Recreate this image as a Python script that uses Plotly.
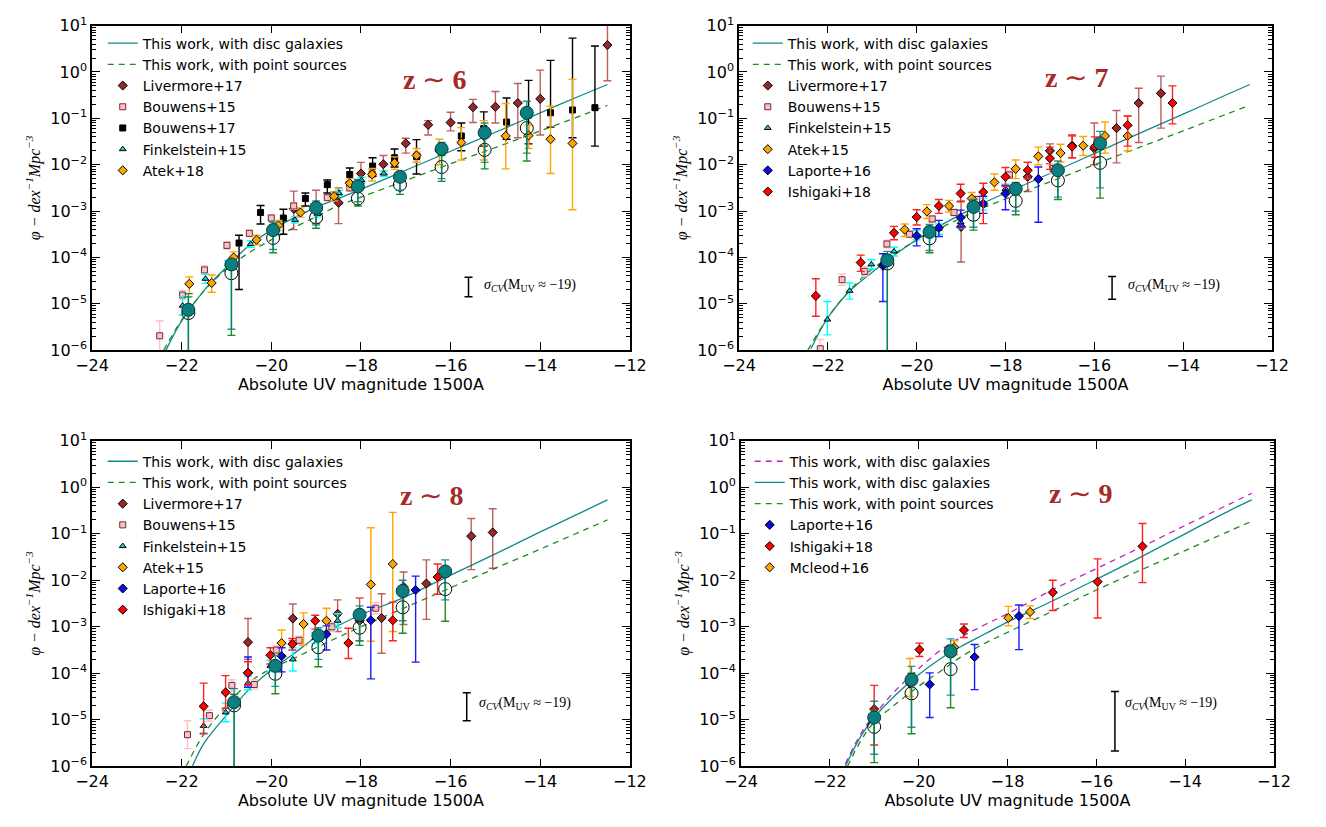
import plotly.graph_objects as go

W, H = 1326, 827

# ---------------- axis ticks ----------------
X_TICKS = [-24, -22, -20, -18, -16, -14, -12]
Y_EXP = [-6, -5, -4, -3, -2, -1, 0, 1]
Y_TICK_TEXT = ["10<sup>−6</sup>", "10<sup>−5</sup>", "10<sup>−4</sup>", "10<sup>−3</sup>",
               "10<sup>−2</sup>", "10<sup>−1</sup>", "10<sup>0</sup>", "10<sup>1</sup>"]

# All phi values below are log10(phi [dex^-1 Mpc^-3]).
# ================= z ~ 6 =================
Z6_LINE_M = [-22.35, -22.0, -21.5, -21.0, -20.5, -20.0, -19.0, -18.5, -18.0, -17.0, -16.0, -15.0, -14.0, -13.0, -12.5]
Z6_DISC_LINE = [-6.0, -5.37, -4.71, -4.21, -3.75, -3.41, -2.92, -2.73, -2.53, -2.12, -1.71, -1.30, -0.88, -0.47, -0.27]
Z6_PTS_LINE_M = [-22.4, -22.0, -21.5, -21.0, -20.5, -20.0, -19.5, -19.0, -18.5, -18.0, -17.0, -16.0, -15.0, -14.0, -13.0, -12.5]
Z6_PTS_LINE = [-6.0, -5.35, -4.72, -4.25, -3.9, -3.62, -3.36, -3.12, -2.88, -2.7, -2.34, -1.98, -1.63, -1.27, -0.91, -0.72]

Z6_W_M = [-21.85, -20.89, -19.96, -19.0, -18.07, -17.13, -16.2, -15.24, -14.3]
Z6_W_DISC = [-5.13, -4.15, -3.41, -2.93, -2.47, -2.26, -1.66, -1.31, -0.88]
Z6_W_DISC_HI = [-4.78, -4.06, -3.24, -2.78, -2.32, -2.15, -1.52, -1.10, -0.63]
Z6_W_DISC_LO = [-7.0, -5.55, -3.83, -3.30, -2.80, -2.55, -2.30, -1.95, -1.75]
Z6_W_PT = [-5.2, -4.34, -3.58, -3.14, -2.73, -2.43, -2.05, -1.68, -1.21]
Z6_W_PT_HI = [-4.85, -4.10, -3.30, -2.90, -2.50, -2.25, -1.80, -1.40, -0.95]
Z6_W_PT_LO = [-7.0, -5.68, -3.90, -3.37, -2.89, -2.64, -2.36, -2.09, -1.92]

Z6_LIV_M = [-19.5, -19.0, -18.5, -18.0, -17.5, -17.0, -16.5, -16.0, -15.5, -15.0, -14.5, -14.0, -12.5]
Z6_LIV = [-2.95, -2.87, -2.82, -2.19, -1.99, -1.54, -1.14, -1.09, -0.76, -0.75, -0.67, -0.58, 0.58]
Z6_LIV_HI = [-2.57, -2.55, -2.50, -1.95, -1.80, -1.43, -1.05, -0.87, -0.59, -0.42, -0.25, 0.04, 1.5]
Z6_LIV_LO = [-3.40, -3.26, -3.27, -2.40, -2.20, -1.75, -1.36, -1.27, -1.09, -1.10, -1.42, -1.36, -0.19]

Z6_B15_M = [-22.49, -21.98, -21.49, -20.99, -20.49, -20.0, -19.5, -18.75, -18.25, -17.75, -17.25, -16.75]
Z6_B15 = [-5.69, -4.81, -4.27, -3.74, -3.48, -3.15, -2.89, -2.71, -2.50, -2.20, -1.95, -1.82]
Z6_B15_ERR = [0.32, 0.10, 0.09, 0.08, 0.07, 0.07, 0.07, 0.06, 0.07, 0.08, 0.09, 0.10]

Z6_B17_M = [-20.72, -20.24, -19.73, -19.24, -18.75, -18.25, -17.74, -17.25, -16.76, -15.76, -15.26, -14.75, -14.26, -13.77, -13.28, -12.78]
Z6_B17 = [-3.69, -3.03, -3.15, -2.73, -2.43, -2.21, -2.03, -1.85, -1.82, -1.38, -1.22, -1.08, -0.93, -0.88, -0.82, -0.77]
Z6_B17_HI = [-3.52, -2.88, -2.96, -2.61, -2.33, -2.07, -1.85, -1.66, -1.46, -1.10, -0.86, -0.56, -0.18, 0.25, 0.73, 0.56]
Z6_B17_LO = [-4.69, -3.28, -3.50, -2.89, -2.61, -2.37, -2.25, -2.05, -2.20, -1.70, -1.60, -1.45, -1.55, -1.19, -1.42, -1.60]

Z6_F15_M = [-21.98, -21.47, -20.96, -20.46, -19.96, -19.47, -18.97, -18.49, -17.99, -17.49]
Z6_F15 = [-5.04, -4.46, -4.15, -3.71, -3.38, -3.19, -3.06, -2.61, -2.33, -2.19]
Z6_F15_ERR = [0.20, 0.10, 0.08, 0.07, 0.07, 0.07, 0.07, 0.06, 0.06, 0.06]

Z6_A18_M = [-21.83, -21.33, -20.84, -20.33, -19.84, -19.35, -18.6, -18.25, -17.75, -17.25, -16.76, -16.25, -15.76, -15.26, -14.77, -14.26, -13.77, -13.28]
Z6_A18 = [-4.57, -4.55, -4.00, -3.62, -3.31, -3.03, -2.68, -2.40, -2.21, -1.96, -1.80, -1.70, -1.52, -1.38, -1.38, -1.37, -1.45, -1.54]
Z6_A18_HI = [-4.42, -4.38, -3.88, -3.52, -3.20, -2.93, -2.58, -2.30, -2.08, -1.83, -1.65, -1.45, -1.20, -1.05, -0.68, -1.15, -0.74, -0.16]
Z6_A18_LO = [-4.78, -4.75, -4.15, -3.72, -3.42, -3.13, -2.78, -2.50, -2.35, -2.10, -1.95, -2.00, -1.90, -1.90, -2.09, -1.65, -2.19, -2.97]

# ================= z ~ 7 =================
Z7_LINE_M = [-22.38, -22.0, -21.5, -21.0, -20.66, -20.0, -19.5, -19.0, -18.5, -18.0, -17.0, -16.0, -15.0, -14.0, -13.0, -12.5]
Z7_DISC_LINE = [-5.97, -5.30, -4.72, -4.32, -4.06, -3.62, -3.33, -3.07, -2.83, -2.61, -2.19, -1.76, -1.33, -0.91, -0.48, -0.27]
Z7_PTS_LINE_M = [-22.45, -22.0, -21.5, -21.0, -20.5, -20.0, -19.5, -19.0, -18.5, -18.0, -17.0, -16.0, -15.0, -14.0, -13.0, -12.5]
Z7_PTS_LINE = [-6.0, -5.30, -4.70, -4.25, -3.92, -3.63, -3.38, -3.15, -2.93, -2.74, -2.37, -2.00, -1.63, -1.27, -0.90, -0.72]

Z7_W_M = [-20.66, -19.71, -18.72, -17.77, -16.82, -15.87]
Z7_W_DISC = [-4.06, -3.45, -2.91, -2.52, -2.12, -1.54]
Z7_W_DISC_HI = [-3.87, -3.29, -2.75, -2.38, -1.92, -1.28]
Z7_W_DISC_LO = [-7.0, -3.85, -3.35, -3.00, -2.70, -2.50]
Z7_W_PT = [-4.13, -3.59, -3.08, -2.78, -2.34, -1.96]
Z7_W_PT_HI = [-3.95, -3.35, -2.85, -2.50, -2.05, -1.50]
Z7_W_PT_LO = [-7.0, -3.90, -3.41, -3.08, -2.75, -2.72]

Z7_LIV_M = [-19.0, -17.5, -17.0, -16.5, -16.0, -15.5, -15.0, -14.5]
Z7_LIV = [-3.34, -2.26, -1.70, -1.59, -1.65, -1.21, -0.67, -0.46]
Z7_LIV_HI = [-2.78, -1.95, -1.55, -1.38, -1.10, -0.83, -0.35, -0.09]
Z7_LIV_LO = [-4.10, -2.58, -1.98, -1.85, -2.00, -1.96, -1.52, -1.21]

Z7_B15_M = [-22.17, -21.68, -21.17, -20.67, -20.16, -19.65, -19.16, -18.65, -17.91, -16.93]
Z7_B15 = [-5.97, -4.48, -4.30, -3.71, -3.50, -3.17, -3.03, -2.75, -2.22, -2.08]
Z7_B15_ERR = [0.20, 0.12, 0.10, 0.08, 0.07, 0.07, 0.07, 0.07, 0.08, 0.10]

Z7_F15_M = [-22.01, -21.51, -21.02, -20.51, -20.0, -19.5, -19.01, -18.5, -18.0]
Z7_F15 = [-5.34, -4.72, -4.15, -3.87, -3.52, -3.38, -3.24, -2.85, -2.52]
Z7_F15_HI = [-4.95, -4.55, -4.05, -3.78, -3.42, -3.28, -3.12, -2.72, -2.42]
Z7_F15_LO = [-5.67, -4.90, -4.25, -3.97, -3.62, -3.50, -3.36, -2.98, -2.62]

Z7_A15_M = [-20.27, -19.77, -19.27, -18.76, -18.25, -17.77, -17.26, -16.76, -16.25, -15.76, -15.25]
Z7_A15 = [-3.40, -3.01, -2.89, -2.73, -2.38, -2.09, -1.82, -1.75, -1.59, -1.38, -1.38]
Z7_A15_HI = [-3.28, -2.86, -2.77, -2.60, -2.20, -1.90, -1.62, -1.56, -1.39, -1.08, -0.95]
Z7_A15_LO = [-3.55, -3.16, -3.02, -2.88, -2.55, -2.30, -2.00, -1.94, -1.80, -1.75, -1.70]

Z7_L16_M = [-20.76, -20.0, -19.5, -19.01, -18.5, -18.0, -17.26]
Z7_L16 = [-4.18, -3.53, -3.36, -3.14, -2.84, -2.62, -2.31]
Z7_L16_HI = [-3.92, -3.38, -3.20, -2.98, -2.68, -2.45, -2.05]
Z7_L16_LO = [-4.95, -3.75, -3.55, -3.35, -3.05, -2.97, -3.24]

Z7_I18_M = [-22.27, -21.26, -20.51, -20.0, -19.5, -19.01, -18.5, -18.0, -17.5, -17.0, -16.5, -15.99, -15.25, -14.24]
Z7_I18 = [-4.83, -4.11, -3.47, -3.13, -2.89, -2.62, -2.59, -2.26, -2.12, -1.86, -1.61, -1.61, -1.15, -0.67]
Z7_I18_HI = [-4.46, -3.95, -3.33, -2.97, -2.75, -2.42, -2.40, -2.06, -1.95, -1.62, -1.36, -1.40, -0.95, -0.30]
Z7_I18_LO = [-5.27, -4.30, -3.62, -3.30, -3.05, -2.80, -3.27, -2.47, -2.30, -2.10, -1.85, -1.84, -1.60, -1.12]

# ================= z ~ 8 =================
Z8_LINE_M = [-21.76, -21.5, -21.0, -20.5, -20.0, -19.5, -19.0, -18.5, -18.0, -17.0, -16.0, -15.0, -14.0, -13.0, -12.5]
Z8_DISC_LINE = [-6.0, -5.5, -4.9, -4.35, -3.93, -3.58, -3.22, -2.97, -2.74, -2.35, -1.89, -1.43, -0.96, -0.50, -0.27]
Z8_PTS_LINE_M = [-21.9, -21.5, -21.0, -20.5, -20.0, -19.5, -19.0, -18.5, -18.0, -17.0, -16.0, -15.0, -14.0, -13.0, -12.5]
Z8_PTS_LINE = [-6.0, -5.3, -4.7, -4.2, -3.9, -3.68, -3.45, -3.22, -3.0, -2.58, -2.16, -1.74, -1.33, -0.91, -0.70]

Z8_W_M = [-20.83, -19.91, -18.95, -18.03, -17.07, -16.12]
Z8_W_DISC = [-4.62, -3.84, -3.19, -2.74, -2.23, -1.81]
Z8_W_DISC_HI = [-4.33, -3.62, -3.02, -2.55, -2.00, -1.56]
Z8_W_DISC_LO = [-7.0, -4.28, -3.70, -3.30, -2.87, -2.42]
Z8_W_PT = [-4.69, -4.01, -3.44, -3.02, -2.58, -2.19]
Z8_W_PT_HI = [-4.45, -3.75, -3.20, -2.80, -2.30, -1.90]
Z8_W_PT_LO = [-7.0, -4.44, -3.86, -3.40, -3.14, -2.88]

Z8_LIV_M = [-20.52, -19.52, -18.52, -18.03, -17.54, -17.05, -16.54, -15.54, -15.06]
Z8_LIV = [-3.33, -2.82, -2.72, -2.87, -2.81, -2.14, -2.07, -1.05, -0.97]
Z8_LIV_HI = [-2.82, -2.51, -2.42, -2.38, -2.29, -1.82, -1.56, -0.67, -0.46]
Z8_LIV_LO = [-3.70, -3.30, -3.10, -3.30, -3.57, -2.95, -2.84, -1.77, -1.74]

Z8_B15_M = [-21.87, -21.38, -20.88, -20.38, -19.89, -19.38, -18.65, -17.67]
Z8_B15 = [-5.32, -4.91, -4.26, -4.24, -3.50, -3.29, -3.00, -2.60]
Z8_B15_ERR = [0.30, 0.12, 0.12, 0.10, 0.09, 0.09, 0.10, 0.12]

Z8_F15_M = [-21.51, -21.02, -20.52, -20.02, -19.52, -19.02, -18.52]
Z8_F15 = [-5.13, -4.84, -4.21, -3.84, -3.70, -3.24, -2.87]
Z8_F15_ERR = [0.15, 0.20, 0.15, 0.12, 0.25, 0.12, 0.15]

Z8_A15_M = [-19.77, -19.28, -18.77, -17.78, -17.29]
Z8_A15 = [-3.35, -2.94, -2.87, -2.09, -1.65]
Z8_A15_HI = [-3.07, -2.70, -2.60, -0.87, -0.54]
Z8_A15_LO = [-3.60, -3.40, -3.10, -3.31, -3.10]

Z8_L16_M = [-20.52, -19.77, -18.77, -17.78, -16.78]
Z8_L16 = [-3.99, -3.63, -3.16, -2.86, -2.21]
Z8_L16_HI = [-3.65, -3.45, -2.98, -2.58, -1.91]
Z8_L16_LO = [-4.30, -3.97, -3.50, -4.12, -3.76]

Z8_I18_M = [-21.51, -21.02, -20.52, -20.02, -19.53, -19.02, -18.28, -17.29, -16.29]
Z8_I18 = [-4.71, -4.41, -3.99, -3.61, -3.37, -2.87, -3.35, -2.86, -1.93]
Z8_I18_HI = [-4.21, -4.05, -3.75, -3.45, -3.25, -2.75, -3.03, -2.47, -1.65]
Z8_I18_LO = [-5.30, -4.75, -4.25, -3.80, -3.50, -3.05, -3.68, -3.30, -2.30]

# ================= z ~ 9 =================
Z9_LINE_M = [-21.65, -21.3, -21.0, -20.5, -20.0, -19.5, -19.0, -18.5, -18.0, -17.0, -16.0, -15.0, -14.0, -13.0, -12.5]
Z9_DISC2_LINE = [-5.95, -5.30, -4.90, -4.35, -3.90, -3.50, -3.20, -2.95, -2.72, -2.21, -1.75, -1.29, -0.82, -0.36, -0.13]
Z9_DISC_LINE = [-6.0, -5.35, -4.95, -4.45, -4.03, -3.68, -3.40, -3.15, -2.90, -2.45, -1.98, -1.50, -1.00, -0.50, -0.27]
Z9_PTS_LINE_M = [-21.6, -21.3, -21.0, -20.5, -20.0, -19.5, -19.0, -18.5, -18.0, -17.0, -16.0, -15.0, -14.0, -13.0, -12.5]
Z9_PTS_LINE = [-6.0, -5.45, -5.05, -4.65, -4.28, -3.95, -3.62, -3.35, -3.12, -2.67, -2.21, -1.78, -1.36, -0.94, -0.73]

Z9_W_M = [-21.0, -20.16, -19.28]
Z9_W_DISC = [-4.95, -4.14, -3.53]
Z9_W_DISC_HI = [-4.60, -3.85, -3.26]
Z9_W_DISC_LO = [-5.74, -5.16, -4.47]
Z9_W_PT = [-5.15, -4.43, -3.91]
Z9_W_PT_HI = [-4.80, -4.00, -3.40]
Z9_W_PT_LO = [-5.92, -5.30, -4.74]

Z9_L16_M = [-19.75, -18.74, -17.74]
Z9_L16 = [-4.24, -3.65, -2.77]
Z9_L16_HI = [-3.99, -3.38, -2.53]
Z9_L16_LO = [-4.95, -4.35, -3.49]

Z9_I18_M = [-21.0, -19.98, -18.98, -16.98, -15.97, -14.96]
Z9_I18 = [-4.77, -3.49, -3.07, -2.26, -2.03, -1.27]
Z9_I18_HI = [-4.26, -3.35, -2.94, -2.00, -1.54, -0.78]
Z9_I18_LO = [-5.54, -3.64, -3.23, -2.65, -2.81, -2.05]

Z9_M16_M = [-20.19, -19.2, -17.98, -17.49]
Z9_M16 = [-4.22, -3.44, -2.81, -2.68]
Z9_M16_HI = [-3.68, -3.30, -2.56, -2.55]
Z9_M16_LO = [-4.50, -3.60, -2.98, -2.82]

# cosmic variance bars at M_UV ~ -19 (drawn at fixed place in each panel)
SIGMA_M = [-15.6, -15.6, -15.64, -15.58]
SIGMA_LO = [-4.85, -4.90, -5.02, -5.67]
SIGMA_HI = [-4.43, -4.41, -4.42, -4.39]

PANEL_LABELS = ["6", "7", "8", "9"]

# ---------------- styles ----------------
C_TEAL = "#0f8a8a"
C_GREEN = "#1f8c1f"
C_MAG = "#c020c0"
STY = {
    "Livermore+17": dict(symbol="diamond", color="#982828", size=7, bar="rgba(165,42,42,0.75)", line="black"),
    "Bouwens+15": dict(symbol="square", color="#ffc0cb", size=6, bar="#ffc0cb", line="#6a3030"),
    "Bouwens+17": dict(symbol="square", color="black", size=6, bar="black", line="black"),
    "Finkelstein+15": dict(symbol="triangle-up", color="#22c8c8", size=6, bar="#00ffff", line="black"),
    "Atek+18": dict(symbol="diamond", color="#ffa500", size=7, bar="#ffa500", line="black"),
    "Atek+15": dict(symbol="diamond", color="#ffa500", size=7, bar="#ffa500", line="black"),
    "Laporte+16": dict(symbol="diamond", color="#0a0ae0", size=7, bar="#1a1aff", line="black"),
    "Ishigaki+18": dict(symbol="diamond", color="#ff0000", size=7, bar="#ff2020", line="black"),
    "Mcleod+16": dict(symbol="diamond", color="#ffa500", size=7, bar="#ffa500", line="black"),
}

fig = go.Figure()


def pw(v):
    return [10 ** a for a in v]


def add_pts(M, lg, hi, lo, name, xa, ya, leg, show=True):
    s = STY[name]
    y = pw(lg)
    plus = [10 ** h - 10 ** a for h, a in zip(hi, lg)]
    minus = [10 ** a - 10 ** l for a, l in zip(lg, lo)]
    fig.add_trace(go.Scatter(
        x=M, y=y, mode="markers", name=name, legend=leg, showlegend=show,
        xaxis=xa, yaxis=ya,
        marker=dict(symbol=s["symbol"], color=s["color"], size=s["size"],
                    line=dict(color=s["line"], width=1)),
        error_y=dict(type="data", symmetric=False, array=plus, arrayminus=minus,
                     color=s["bar"], thickness=1.4, width=4)))


def sym(lg, err, sign):
    return [a + sign * e for a, e in zip(lg, err)]


def add_line(M, lg, name, color, dash, xa, ya, leg):
    fig.add_trace(go.Scatter(x=M, y=pw(lg), mode="lines", name=name, legend=leg,
                             xaxis=xa, yaxis=ya, line=dict(color=color, width=1.3, dash=dash, shape="spline")))


def add_work(M, d, dhi, dlo, p, phi_, plo, xa, ya, leg):
    fig.add_trace(go.Scatter(
        x=M, y=pw(p), mode="markers", showlegend=False, legend=leg, xaxis=xa, yaxis=ya,
        marker=dict(symbol="circle-open", color="black", size=13, line=dict(width=1)),
        error_y=dict(type="data", symmetric=False,
                     array=[10 ** h - 10 ** a for h, a in zip(phi_, p)],
                     arrayminus=[10 ** a - 10 ** l for a, l in zip(p, plo)],
                     color=C_GREEN, thickness=1.4, width=4)))
    fig.add_trace(go.Scatter(
        x=M, y=pw(d), mode="markers", showlegend=False, legend=leg, xaxis=xa, yaxis=ya,
        marker=dict(symbol="circle", color="#0b7f7f", size=13, line=dict(color="#0a3a3a", width=1)),
        error_y=dict(type="data", symmetric=False,
                     array=[10 ** h - 10 ** a for h, a in zip(dhi, d)],
                     arrayminus=[10 ** a - 10 ** l for a, l in zip(d, dlo)],
                     color="rgba(0,128,128,0.85)", thickness=1.4, width=4)))


DISC = "This work, with disc galaxies"
PTS = "This work, with point sources"

# ---- panel 1 ----
xa, ya, lg = "x", "y", "legend"
add_line(Z6_LINE_M, Z6_DISC_LINE, DISC, C_TEAL, "solid", xa, ya, lg)
add_line(Z6_PTS_LINE_M, Z6_PTS_LINE, PTS, C_GREEN, "6px,5px", xa, ya, lg)
add_pts(Z6_LIV_M, Z6_LIV, Z6_LIV_HI, Z6_LIV_LO, "Livermore+17", xa, ya, lg)
add_pts(Z6_B15_M, Z6_B15, sym(Z6_B15, Z6_B15_ERR, 1), sym(Z6_B15, Z6_B15_ERR, -1), "Bouwens+15", xa, ya, lg)
add_pts(Z6_B17_M, Z6_B17, Z6_B17_HI, Z6_B17_LO, "Bouwens+17", xa, ya, lg)
add_pts(Z6_F15_M, Z6_F15, sym(Z6_F15, Z6_F15_ERR, 1), sym(Z6_F15, Z6_F15_ERR, -1), "Finkelstein+15", xa, ya, lg)
add_pts(Z6_A18_M, Z6_A18, Z6_A18_HI, Z6_A18_LO, "Atek+18", xa, ya, lg)
add_work(Z6_W_M, Z6_W_DISC, Z6_W_DISC_HI, Z6_W_DISC_LO, Z6_W_PT, Z6_W_PT_HI, Z6_W_PT_LO, xa, ya, lg)

# ---- panel 2 ----
xa, ya, lg = "x2", "y2", "legend2"
add_line(Z7_LINE_M, Z7_DISC_LINE, DISC, C_TEAL, "solid", xa, ya, lg)
add_line(Z7_PTS_LINE_M, Z7_PTS_LINE, PTS, C_GREEN, "6px,5px", xa, ya, lg)
add_pts(Z7_LIV_M, Z7_LIV, Z7_LIV_HI, Z7_LIV_LO, "Livermore+17", xa, ya, lg)
add_pts(Z7_B15_M, Z7_B15, sym(Z7_B15, Z7_B15_ERR, 1), sym(Z7_B15, Z7_B15_ERR, -1), "Bouwens+15", xa, ya, lg)
add_pts(Z7_F15_M, Z7_F15, Z7_F15_HI, Z7_F15_LO, "Finkelstein+15", xa, ya, lg)
add_pts(Z7_A15_M, Z7_A15, Z7_A15_HI, Z7_A15_LO, "Atek+15", xa, ya, lg)
add_pts(Z7_L16_M, Z7_L16, Z7_L16_HI, Z7_L16_LO, "Laporte+16", xa, ya, lg)
add_pts(Z7_I18_M, Z7_I18, Z7_I18_HI, Z7_I18_LO, "Ishigaki+18", xa, ya, lg)
add_work(Z7_W_M, Z7_W_DISC, Z7_W_DISC_HI, Z7_W_DISC_LO, Z7_W_PT, Z7_W_PT_HI, Z7_W_PT_LO, xa, ya, lg)

# ---- panel 3 ----
xa, ya, lg = "x3", "y3", "legend3"
add_line(Z8_LINE_M, Z8_DISC_LINE, DISC, C_TEAL, "solid", xa, ya, lg)
add_line(Z8_PTS_LINE_M, Z8_PTS_LINE, PTS, C_GREEN, "6px,5px", xa, ya, lg)
add_pts(Z8_LIV_M, Z8_LIV, Z8_LIV_HI, Z8_LIV_LO, "Livermore+17", xa, ya, lg)
add_pts(Z8_B15_M, Z8_B15, sym(Z8_B15, Z8_B15_ERR, 1), sym(Z8_B15, Z8_B15_ERR, -1), "Bouwens+15", xa, ya, lg)
add_pts(Z8_F15_M, Z8_F15, sym(Z8_F15, Z8_F15_ERR, 1), sym(Z8_F15, Z8_F15_ERR, -1), "Finkelstein+15", xa, ya, lg)
add_pts(Z8_A15_M, Z8_A15, Z8_A15_HI, Z8_A15_LO, "Atek+15", xa, ya, lg)
add_pts(Z8_L16_M, Z8_L16, Z8_L16_HI, Z8_L16_LO, "Laporte+16", xa, ya, lg)
add_pts(Z8_I18_M, Z8_I18, Z8_I18_HI, Z8_I18_LO, "Ishigaki+18", xa, ya, lg)
add_work(Z8_W_M, Z8_W_DISC, Z8_W_DISC_HI, Z8_W_DISC_LO, Z8_W_PT, Z8_W_PT_HI, Z8_W_PT_LO, xa, ya, lg)

# ---- panel 4 ----
xa, ya, lg = "x4", "y4", "legend4"
add_line(Z9_LINE_M, Z9_DISC2_LINE, DISC, C_MAG, "6px,5px", xa, ya, lg)
add_line(Z9_LINE_M, Z9_DISC_LINE, DISC, C_TEAL, "solid", xa, ya, lg)
add_line(Z9_PTS_LINE_M, Z9_PTS_LINE, PTS, C_GREEN, "6px,5px", xa, ya, lg)
add_pts(Z9_L16_M, Z9_L16, Z9_L16_HI, Z9_L16_LO, "Laporte+16", xa, ya, lg)
add_pts(Z9_I18_M, Z9_I18, Z9_I18_HI, Z9_I18_LO, "Ishigaki+18", xa, ya, lg)
add_pts(Z9_M16_M, Z9_M16, Z9_M16_HI, Z9_M16_LO, "Mcleod+16", xa, ya, lg)
add_work(Z9_W_M, Z9_W_DISC, Z9_W_DISC_HI, Z9_W_DISC_LO, Z9_W_PT, Z9_W_PT_HI, Z9_W_PT_LO, xa, ya, lg)

# ---- sigma_CV bars ----
for i, (xa, ya) in enumerate([("x", "y"), ("x2", "y2"), ("x3", "y3"), ("x4", "y4")]):
    mid = (SIGMA_LO[i] + SIGMA_HI[i]) / 2
    fig.add_trace(go.Scatter(
        x=[SIGMA_M[i]], y=[10 ** mid], mode="markers", showlegend=False, xaxis=xa, yaxis=ya,
        marker=dict(size=1, color="rgba(0,0,0,0)"),
        error_y=dict(type="data", symmetric=False, array=[10 ** SIGMA_HI[i] - 10 ** mid],
                     arrayminus=[10 ** mid - 10 ** SIGMA_LO[i]], color="black", thickness=1.5, width=4)))

# ---------------- layout ----------------
XD = [[77 / W, 629 / W], [741 / W, 1288 / W], [77 / W, 629 / W], [743 / W, 1290 / W]]
YD = [[1 - 348 / H, 1 - 15 / H], [1 - 348 / H, 1 - 15 / H], [1 - 775 / H, 1 - 441 / H], [1 - 775 / H, 1 - 441 / H]]
MINOR_VALS = [k * 10 ** e for e in range(-6, 1) for k in range(2, 10)]

layout = dict(width=W, height=H, margin=dict(l=0, r=0, t=0, b=0),
              paper_bgcolor="white", plot_bgcolor="white", showlegend=True,
              font=dict(family="DejaVu Sans", color="black"))
ann = []
for i in range(4):
    sfx = "" if i == 0 else str(i + 1)
    layout["xaxis" + sfx] = dict(
        domain=XD[i], anchor="y" + sfx, range=[-24, -12], tickvals=X_TICKS,
        ticks="inside", ticklen=8, tickwidth=1, tickcolor="black", mirror="allticks",
        showline=True, linecolor="black", linewidth=1.5, showgrid=False, zeroline=False,
        tickfont=dict(size=16, family="DejaVu Sans"),
        title=dict(text="Absolute UV magnitude 1500A", font=dict(size=16, family="DejaVu Sans"), standoff=4))
    layout["yaxis" + sfx] = dict(
        domain=YD[i], anchor="x" + sfx, type="log", range=[-6, 1],
        tickvals=[10 ** e for e in Y_EXP], ticktext=Y_TICK_TEXT,
        ticks="inside", ticklen=8, tickwidth=1, tickcolor="black", mirror="allticks",
        showline=True, linecolor="black", linewidth=1.5, showgrid=False, zeroline=False,
        minor=dict(tickvals=MINOR_VALS, ticks="inside", ticklen=4, tickcolor="black", showgrid=False),
        tickfont=dict(size=16, family="DejaVu Sans"),
        title=dict(text="<i>φ − dex<sup>−1</sup>Mpc<sup>−3</sup></i>",
                   font=dict(size=16, family="Liberation Serif"), standoff=6))

LEG_POS = [(88 / W, 1 - 17 / H), (750 / W, 1 - 17 / H), (88 / W, 1 - 446 / H), (752 / W, 1 - 446 / H)]
for i in range(4):
    key = "legend" if i == 0 else "legend" + str(i + 1)
    layout[key] = dict(x=LEG_POS[i][0], y=LEG_POS[i][1], xanchor="left", yanchor="top",
                       bgcolor="rgba(0,0,0,0)", borderwidth=0, tracegroupgap=0,
                       font=dict(size=14, family="DejaVu Sans", color="black"))

TITLE_POS = [(-16.37, -0.155), (-16.39, -0.11), (-16.43, -0.18), (-16.35, -0.13)]
SIG_TXT_POS = [(-15.31, -4.60), (-15.29, -4.60), (-15.42, -4.64), (-15.40, -4.64)]
for i in range(4):
    sfx = "" if i == 0 else str(i + 1)
    ann.append(dict(xref="x" + sfx, yref="y" + sfx, x=TITLE_POS[i][0], y=TITLE_POS[i][1],
                    text="<b>z</b> ∼ <b>" + PANEL_LABELS[i] + "</b>", showarrow=False,
                    font=dict(size=28, family="Liberation Serif", color="#a52a2a")))
    ann.append(dict(xref="x" + sfx, yref="y" + sfx, x=SIG_TXT_POS[i][0], y=SIG_TXT_POS[i][1],
                    xanchor="left", text="<i>σ<sub>CV</sub></i>(M<sub>UV</sub> ≈ −19)", showarrow=False,
                    font=dict(size=14, family="Liberation Serif", color="black")))
layout["annotations"] = ann
fig.update_layout(**layout)
fig.write_html("out.html")
